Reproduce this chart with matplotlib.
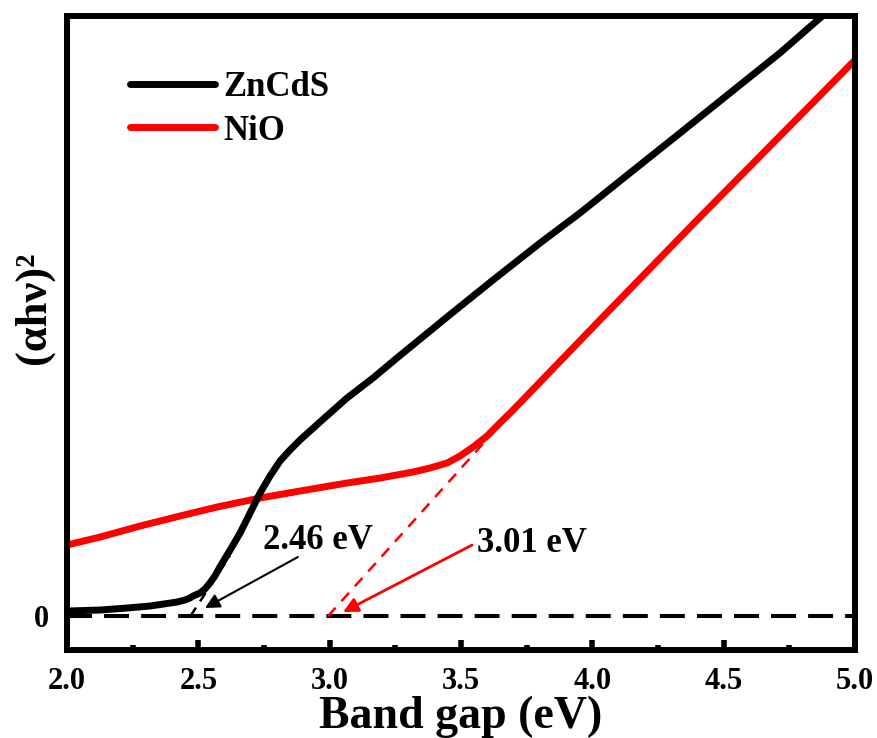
import matplotlib
matplotlib.use("Agg")
import matplotlib.pyplot as plt

plt.rcParams['font.family'] = ['Liberation Serif', 'DejaVu Serif']
plt.rcParams['font.weight'] = 'bold'

# ---- data ----
zncds_x = [2.0, 2.126, 2.228, 2.316, 2.419, 2.449, 2.468, 2.480, 2.506, 2.525,
           2.544, 2.563, 2.582, 2.621, 2.659, 2.697, 2.735, 2.773, 2.811, 2.849,
           2.887, 2.963, 3.066, 3.165, 3.256, 3.447, 3.622, 3.801, 3.953, 4.143,
           4.334, 4.524, 4.714, 4.867, 5.0]
zncds_y = [0.05, 0.06, 0.08, 0.10, 0.14, 0.16, 0.18, 0.20, 0.23, 0.27,
           0.33, 0.40, 0.49, 0.66, 0.83, 1.03, 1.23, 1.40, 1.55, 1.66,
           1.76, 1.94, 2.18, 2.38, 2.58, 2.99, 3.36, 3.73, 4.03, 4.43,
           4.83, 5.23, 5.63, 5.98, 6.26]

nio_x = [2.0, 2.126, 2.278, 2.430, 2.571, 2.735, 2.887, 3.066, 3.192, 3.317,
         3.382, 3.447, 3.496, 3.546, 3.599, 3.648, 3.687, 3.724, 4.029, 4.410, 5.0]
nio_y = [0.71, 0.79, 0.90, 1.00, 1.09, 1.18, 1.25, 1.33, 1.38, 1.44,
         1.48, 1.53, 1.60, 1.69, 1.80, 1.93, 2.03, 2.13, 2.96, 3.99, 5.56]

zncds_tangent_x = [2.47, 2.62]
zncds_tangent_y = [0.0, 0.6]
nio_tangent_x = [2.994, 3.648]
nio_tangent_y = [0.0, 1.91]

xticks = [2.0, 2.5, 3.0, 3.5, 4.0, 4.5, 5.0]
xtick_labels = ['2.0', '2.5', '3.0', '3.5', '4.0', '4.5', '5.0']

fig = plt.figure(figsize=(8.77, 7.38), dpi=100)
ax = fig.add_axes([0.0764, 0.1192, 0.8985, 0.8591])

# baseline
ax.plot([2.0, 5.0], [0, 0], color='black', lw=2.9, linestyle=(0, (6.2, 3.0)), zorder=1)
# tangents
ax.plot(zncds_tangent_x, zncds_tangent_y, color='black', lw=1.8,
        linestyle=(0, (4, 3)), zorder=1)
ax.plot(nio_tangent_x, nio_tangent_y, color='red', lw=1.8,
        linestyle=(0, (4.5, 3.5)), zorder=1)

ax.plot(zncds_x, zncds_y, color='black', lw=5, label='ZnCdS', zorder=3,
        solid_capstyle='round', solid_joinstyle='round')
ax.plot(nio_x, nio_y, color='red', lw=5, label='NiO', zorder=2,
        solid_capstyle='round', solid_joinstyle='round')

# annotations
ax.annotate('', xy=(2.525, 0.08), xytext=(2.879, 0.59),
            arrowprops=dict(arrowstyle='-|>', color='black', lw=1.5,
                            mutation_scale=22, shrinkA=0, shrinkB=0))
ax.annotate('', xy=(3.051, 0.04), xytext=(3.542, 0.71),
            arrowprops=dict(arrowstyle='-|>', color='red', lw=2,
                            mutation_scale=22, shrinkA=0, shrinkB=0))
ax.text(2.746, 0.76, '2.46 eV', fontsize=25, fontweight='bold',
        ha='left', va='center')
ax.text(3.561, 0.73, '3.01 eV', fontsize=25, fontweight='bold',
        ha='left', va='center')

ax.set_xlim(2.0, 5.0)
ax.set_ylim(-0.34, 6.0)
ax.set_xticks(xticks)
ax.set_xticklabels(xtick_labels)
ax.set_xticks([2.25, 2.75, 3.25, 3.75, 4.25, 4.75], minor=True)
ax.set_yticks([0])
ax.set_yticklabels(['0'])
ax.tick_params(axis='x', which='major', direction='in', length=7, width=4,
               labelsize=22, pad=12)
ax.tick_params(axis='x', which='minor', direction='in', length=3.5, width=4)
ax.tick_params(axis='y', which='both', length=0, labelsize=22, pad=13)
for lab in ax.get_xticklabels() + ax.get_yticklabels():
    lab.set_fontweight('bold')

for sp in ax.spines.values():
    sp.set_linewidth(4.3)

ax.set_xlabel('Band gap (eV)', fontsize=33, fontweight='bold', labelpad=0)
ax.set_ylabel('(αhν)²', fontsize=32, fontweight='bold')
ax.yaxis.set_label_coords(-0.016, 0.54)

leg = ax.legend(loc='upper left', bbox_to_anchor=(0.08, 0.913), frameon=False,
                fontsize=25, handlelength=2.45, handletextpad=0.25,
                borderpad=0, borderaxespad=0, labelspacing=0.3)
for t in leg.get_texts():
    t.set_fontweight('bold')
for l in leg.get_lines():
    l.set_linewidth(5)

fig.savefig('out.png', dpi=100)
